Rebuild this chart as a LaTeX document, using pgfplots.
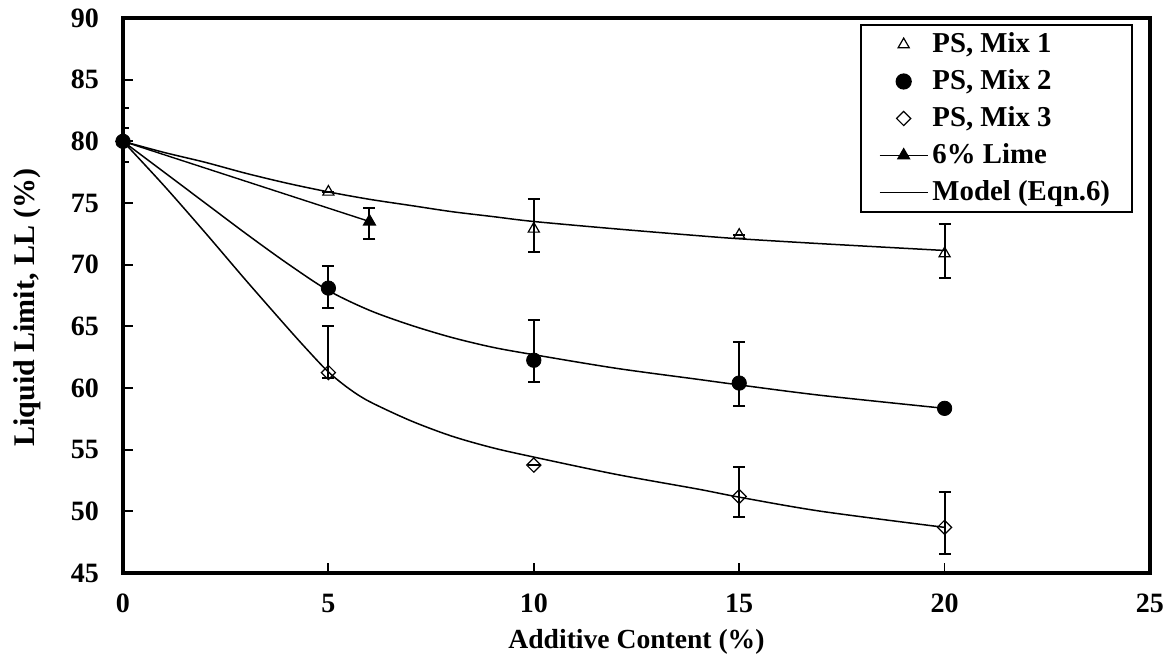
\documentclass[border=0pt]{standalone}
\usepackage{pgfplots}
\pgfplotsset{compat=1.18}
\usepackage{fontspec}
\setmainfont{Liberation Serif}
\begin{document}
\begin{tikzpicture}
\path[use as bounding box] (-61.5pt,-45pt) rectangle (523pt,286.5pt);
\begin{axis}[
  at={(0,0)}, anchor=south west,
  scale only axis, width=513.5pt, height=277.5pt,
  xmin=0, xmax=25, ymin=45, ymax=90,
  xtick={0,5,10,15,20,25}, ytick={45,50,...,90},
  tick align=inside, xtick pos=bottom, ytick pos=left,
  major tick length=5pt,
  axis line style={line width=1.9pt},
  every tick/.style={line width=0.9pt, black},
  /pgf/number format/assume math mode=true,
  ticklabel style={font=\bfseries\fontsize{14}{16}\selectfont},
  xticklabel style={yshift=-7pt},
  yticklabel style={xshift=-8.5pt},
  xlabel={\bfseries Additive Content (\%)},
  ylabel={\bfseries Liquid Limit, LL (\%)},
  xlabel style={font=\bfseries\fontsize{13.8}{16}\selectfont, yshift=-1.5pt},
  ylabel style={font=\bfseries\fontsize{15}{17}\selectfont, yshift=8pt, xshift=-6pt},
  legend cell align=left,
  legend style={at={(0.9834,0.989)}, anchor=north east,
    draw=black, line width=0.9pt, font=\bfseries\fontsize{14.4}{15}\selectfont,
    row sep=3pt, inner xsep=9pt, inner ysep=2pt},
  legend image code/.code={
    \draw[mark repeat=2,mark phase=2,#1] plot coordinates {(0pt,0pt) (12pt,0pt) (24pt,0pt)};
  },
  emark/.style={error bars/.cd, y dir=both, y explicit,
    error bar style={line width=1pt}, error mark options={rotate=90, mark size=3pt, line width=1pt}},
]
% PS, Mix 1
\addplot[only marks, mark=triangle, mark size=3.2pt, mark options={line width=0.6pt, fill=white}, emark]
  coordinates {
  (0,80) += (0,1.1) -= (0,0)
  (5,75.9) += (0,0) -= (0,0)
  (10,72.9) += (0,2.4) -= (0,1.9)
  (15,72.4) += (0,0) -= (0,0)
  (20,70.9) += (0,2.4) -= (0,2.0)
  };
\addlegendentry{PS, Mix 1}
% PS, Mix 2
\addplot[only marks, mark=*, mark size=3.6pt, mark options={fill=black}, emark]
  coordinates {
  (0,80) += (0,2.7) -= (0,1.7)
  (5,68.1) += (0,1.8) -= (0,1.6)
  (10,62.25) += (0,3.3) -= (0,1.75)
  (15,60.4) += (0,3.3) -= (0,1.9)
  (20,58.35) += (0,0) -= (0,0)
  };
\addlegendentry{PS, Mix 2}
% PS, Mix 3
\addplot[only marks, mark=square, mark size=2.5pt, mark options={rotate=45, line width=0.6pt, fill=white}, emark]
  coordinates {
  (0,80) += (0,0) -= (0,0)
  (5,61.25) += (0,3.8) -= (0,0.4)
  (10,53.75) += (0,0) -= (0,0)
  (15,51.2) += (0,2.4) -= (0,1.7)
  (20,48.7) += (0,2.9) -= (0,2.2)
  };
\addlegendentry{PS, Mix 3}
% 6% Lime
\addplot[black, line width=0.7pt, mark=triangle*, mark size=3.3pt, mark options={fill=black}, emark]
  coordinates {
  (0,80) += (0,0) -= (0,0)
  (6,73.5) += (0,1.1) -= (0,1.45)
  };
\addlegendentry{6\% Lime}
% Model curves
\addplot[black, line width=0.75pt, smooth] coordinates {
  (0,80) (1,79.1) (2,78.3) (3,77.4) (4,76.6) (5,75.9) (6,75.3) (7,74.8) (8,74.3) (9,73.9)
  (10,73.5) (12,72.9) (14,72.35) (15,72.1) (17,71.7) (20,71.15)};
\addlegendentry{Model (Eqn.6)}
\addplot[black, line width=0.75pt, smooth, forget plot] coordinates {
  (0,80) (1,77.5) (2,75.0) (3,72.5) (4,70.1) (5,67.9) (6,66.3) (7,65.1) (8,64.1) (9,63.3)
  (10,62.7) (12,61.6) (14,60.7) (15,60.25) (17,59.4) (20,58.35)};
\addplot[black, line width=0.75pt, smooth, forget plot] coordinates {
  (0,80) (1,76.4) (2,72.6) (3,68.7) (4,64.9) (4.5,63.05) (5,61.3) (5.5,59.95) (6,58.9) (7,57.35)
  (8,56.1) (9,55.15) (10,54.4) (12,53.0) (14,51.8) (15,51.15) (17,50.0) (20,48.7)};
\end{axis}
\end{tikzpicture}
\end{document}
